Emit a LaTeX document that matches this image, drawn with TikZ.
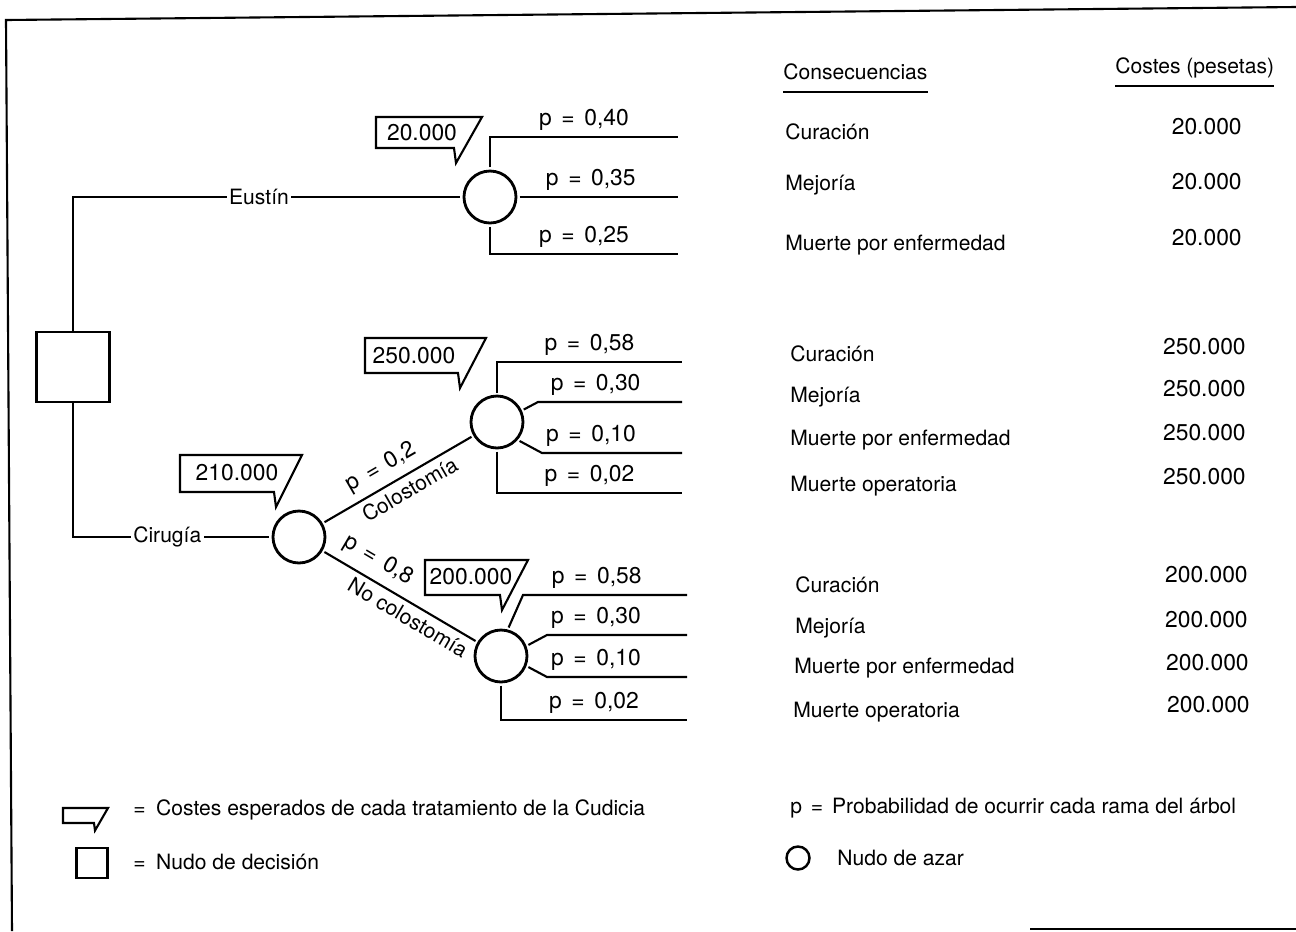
\documentclass[tikz,border=0pt]{standalone}
\usepackage{fontspec}
\setmainfont{TeX Gyre Heros}
\usetikzlibrary{positioning}
% balloon for the expected costs: top-left corner, width, height
\newcommand{\callout}[4][]{%
  \draw[link,shift={#2},#1] (0,0) -- (#3,0) -- (#3-26,#4+15) -- (#3-28,#4) -- (0,#4) -- cycle;}
\newcommand{\pv}[1]{p\hspace{0.42em}=\hspace{0.42em}#1}

\begin{document}
\begin{tikzpicture}[x=0.02cm,y=-0.02cm,font=\fontsize{12}{14}\selectfont,
  link/.style={line width=1.2pt},
  dec/.style={draw,line width=1.4pt,minimum width=1.46cm,minimum height=1.40cm,inner sep=0pt},
  chance/.style={circle,draw,line width=1.6pt,minimum size=1.04cm,inner sep=0pt,outer sep=2pt},
  opt/.style={fill=white,inner sep=1.5pt},
  prob/.style={above,inner sep=3pt,font=\fontsize{13}{15}\selectfont},
  sl/.style={sloped,inner sep=3pt},
  cost/.style={inner sep=0pt,font=\fontsize{13}{15}\selectfont},
  txt/.style={anchor=west,inner sep=0pt},
  num/.style={anchor=east,inner sep=0pt,font=\fontsize{13}{15}\selectfont}]
\useasboundingbox (0,0) rectangle (1296,931);
% frame
\draw[link] (1296,7) -- (6,20) -- (12,931);
\draw[link] (1030,929) -- (1296,929);
% tree
\node[dec] (d) at (73,367) {};
\node[chance] (ce) at (490,197) {};
\node[chance] (cc) at (299,537) {};
\node[chance] (cco) at (497,422) {};
\node[chance] (cno) at (501,656) {};
\coordinate (e1) at (678,137);
\coordinate (e2) at (678,197);
\coordinate (e3) at (678,254);
\coordinate (k1) at (682,362);
\coordinate (k2) at (682,402);
\coordinate (k3) at (682,453);
\coordinate (k4) at (682,493);
\coordinate (n1) at (687,595);
\coordinate (n2) at (687,635);
\coordinate (n3) at (687,677);
\coordinate (n4) at (687,720);
\draw[link] (d.north) |- node[opt,pos=0.74] {Eustín} (ce);
\draw[link] (d.south) |- node[opt,pos=0.74] {Cirugía} (cc);
% Eustin
\draw[link] (ce.north) |- node[prob,pos=0.75] {\pv{0,40}} (e1);
\draw[link] (ce) -- node[prob,pos=0.45] {\pv{0,35}} (e2);
\draw[link] (ce.south) |- node[prob,pos=0.75] {\pv{0,25}} (e3);
% Cirugia
\draw[link] (cc) -- node[prob,sloped,inner sep=4pt,pos=0.45] {\pv{0,2}} node[sl,below,pos=0.53] {Colostomía} (cco);
\draw[link] (cc) -- node[prob,sloped,inner sep=5pt,pos=0.29] {\pv{0,8}} node[sl,below,pos=0.6] {No colostomía} (cno);
\draw[link] (cco.north) |- node[prob,pos=0.75] {\pv{0,58}} (k1);
\draw[link] (cco.25) -- (538,402) -- node[prob,pos=0.4] {\pv{0,30}} (k2);
\draw[link] (cco.-40) -- (542,453) -- node[prob,pos=0.35] {\pv{0,10}} (k3);
\draw[link] (cco.south) |- node[prob,pos=0.75] {\pv{0,02}} (k4);
\draw[link] (cno.75) -- (523,595) -- node[prob,pos=0.45] {\pv{0,58}} (n1);
\draw[link] (cno.22) -- (547,635) -- node[prob,pos=0.35] {\pv{0,30}} (n2);
\draw[link] (cno.-22) -- (547,677) -- node[prob,pos=0.35] {\pv{0,10}} (n3);
\draw[link] (cno.south) |- node[prob,pos=0.75] {\pv{0,02}} (n4);
% expected costs
\callout{(376,117)}{106}{31}
\node[cost] (v1) at (422,133) {20.000};
\callout{(365,338)}{121}{35}
\node[cost] (v2) at (414,356) {250.000};
\callout{(180,455)}{122}{37}
\node[cost] (v3) at (237,473) {210.000};
\callout{(425,560)}{103}{35}
\node[cost] (v4) at (471,577) {200.000};
% consequences and costs
\node[txt] (hc) at (783,72) {Consecuencias};
\node[txt] (hk) at (1115,68) {Costes (pesetas)};
\draw[link] ([yshift=-7pt]hc.base west) -- ([yshift=-7pt]hc.base east);
\draw[link] ([yshift=-7pt]hk.base west) -- ([yshift=-7pt]hk.base east);
\node[txt] (a1) at (785,132) {Curación};
\node[txt] (a2) at (785,185) {Mejoría};
\node[txt] (a3) at (785,245) {Muerte por enfermedad};
\node[num] (ca1) at (1242,127) {20.000};
\node[num] (ca2) at (1242,182) {20.000};
\node[num] (ca3) at (1242,238) {20.000};
\node[txt] (b1) at (790,354) {Curación};
\node[txt] (b2) at (790,397) {Mejoría};
\node[txt] (b3) at (790,440) {Muerte por enfermedad};
\node[txt] (b4) at (790,486) {Muerte operatoria};
\node[num] (cb1) at (1246,347) {250.000};
\node[num] (cb2) at (1246,389) {250.000};
\node[num] (cb3) at (1246,433) {250.000};
\node[num] (cb4) at (1246,477) {250.000};
\node[txt] (f1) at (795,585) {Curación};
\node[txt] (f2) at (795,628) {Mejoría};
\node[txt] (f3) at (794,668) {Muerte por enfermedad};
\node[txt] (f4) at (793,712) {Muerte operatoria};
\node[num] (cf1) at (1248,575) {200.000};
\node[num] (cf2) at (1248,620) {200.000};
\node[num] (cf3) at (1249,663) {200.000};
\node[num] (cf4) at (1250,705) {200.000};
% legend
\callout[scale=0.5]{(63,808)}{90}{30}
\node[txt] (l1) at (133,810) {=\enspace Costes esperados de cada tratamiento de la Cudicia};
\node[draw,line width=1.2pt,minimum width=0.62cm,minimum height=0.60cm] (l2) at (92,863) {};
\node[txt] (l3) at (133,862) {=\enspace Nudo de decisión};
\node[txt] (l4) at (790,808) {\pv{Probabilidad de ocurrir cada rama del árbol}};
\node[circle,draw,line width=1.4pt,minimum size=0.46cm,inner sep=0pt] (l5) at (798,858) {};
\node[txt] (l6) at (837,858) {Nudo de azar};
\end{tikzpicture}
\end{document}
